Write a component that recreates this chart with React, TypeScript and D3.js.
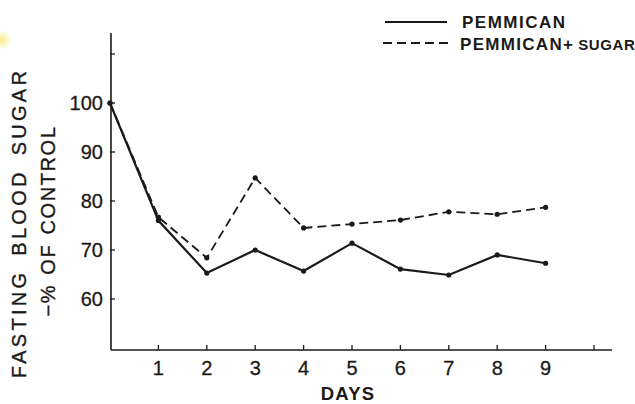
import React from "react"
import * as d3 from "d3"

// days 0..9, values
const days = [0, 1, 2, 3, 4, 5, 6, 7, 8, 9]
const pemmican = [100, 76, 65.3, 70, 65.7, 71.4, 66.1, 64.9, 69, 67.3]
const pemmicanSugar = [100, 76.7, 68.4, 84.7, 74.5, 75.3, 76.1, 77.8, 77.3, 78.7]
const xTicks = [1, 2, 3, 4, 5, 6, 7, 8, 9, 10]
const xTickLabels = ["1", "2", "3", "4", "5", "6", "7", "8", "9", ""]
const yTicks = [60, 70, 80, 90, 100, 110]
const yTickLabels = ["60", "70", "80", "90", "100", ""]
const seriesNames = ["PEMMICAN", "PEMMICAN+"]

const W = 635
const H = 404
const ink = "#1c1a18"
const font = "'Liberation Sans', Arial, sans-serif"

export default function App() {
  const x = d3.scaleLinear().domain([0, 10]).range([110, 594])
  const y = d3.scaleLinear().domain([60, 100]).range([299, 103])

  const xMin = 0.02
  const xMax = 10.37
  const yMin = 49.6
  const yMax = 114.3

  const line = d3
    .line<number>()
    .x((d, i) => x(days[i]))
    .y(d => y(d))

  const axisX = x(xMin)
  const axisY = y(yMin)

  return (
    <svg
      width={W}
      height={H}
      style={{ position: "absolute", left: 0, top: 0, background: "#fff" }}
    >
      <defs>
        <radialGradient id="spot">
          <stop offset="0%" stopColor="#f6ea7a" stopOpacity={0.9} />
          <stop offset="100%" stopColor="#f6ea7a" stopOpacity={0} />
        </radialGradient>
      </defs>
      <circle cx={2} cy={40} r={10} fill="url(#spot)" />

      {/* axes */}
      <line x1={axisX} x2={axisX} y1={y(yMax)} y2={axisY} stroke={ink} strokeWidth={1.6} />
      <line x1={axisX} x2={x(xMax)} y1={axisY} y2={axisY} stroke={ink} strokeWidth={1.6} />

      {yTicks.map((t, i) => (
        <g key={"y" + t}>
          <line x1={axisX - 1} x2={axisX + 4} y1={y(t)} y2={y(t)} stroke={ink} strokeWidth={1.3} />
          <text
            x={axisX - 8}
            y={y(t) + 7}
            textAnchor="end"
            fontFamily={font}
            fontSize={20}
            fill={ink}
            stroke={ink}
            strokeWidth={0.3}
          >
            {yTickLabels[i]}
          </text>
        </g>
      ))}

      {xTicks.map((t, i) => (
        <g key={"x" + t}>
          <line x1={x(t)} x2={x(t)} y1={axisY} y2={axisY - 5} stroke={ink} strokeWidth={1.3} />
          <text
            x={x(t)}
            y={axisY + 25}
            textAnchor="middle"
            fontFamily={font}
            fontSize={20}
            fill={ink}
            stroke={ink}
            strokeWidth={0.3}
          >
            {xTickLabels[i]}
          </text>
        </g>
      ))}

      <text
        x={348}
        y={400}
        textAnchor="middle"
        fontFamily={font}
        fontWeight="bold"
        fontSize={18.5}
        letterSpacing={1.2}
        fill={ink}
      >
        DAYS
      </text>

      <g fontFamily={font} fontSize={20} fill={ink} stroke={ink} strokeWidth={0.35} textAnchor="middle">
        <text transform="translate(26,223) rotate(-90)" letterSpacing={3.3} wordSpacing={5}>
          FASTING BLOOD SUGAR
        </text>
        <text transform="translate(55,221) rotate(-90)" letterSpacing={1.6} wordSpacing={2}>
          −% OF CONTROL
        </text>
      </g>

      {/* series */}
      <path
        d={line(pemmicanSugar) || ""}
        fill="none"
        stroke={ink}
        strokeWidth={1.8}
        strokeDasharray="9,5"
      />
      <path d={line(pemmican) || ""} fill="none" stroke={ink} strokeWidth={2.2} />
      {pemmicanSugar.map((v, i) => (
        <circle key={"s" + i} cx={x(days[i])} cy={y(v)} r={2.6} fill={ink} />
      ))}
      {pemmican.map((v, i) => (
        <circle key={"p" + i} cx={x(days[i])} cy={y(v)} r={2.6} fill={ink} />
      ))}

      {/* legend */}
      <line x1={385} x2={447} y1={22} y2={22} stroke={ink} strokeWidth={2.2} />
      <text x={462} y={28} fontFamily={font} fontWeight="bold" fontSize={17} letterSpacing={1.5} fill={ink}>
        {seriesNames[0]}
      </text>
      <line x1={383} x2={448} y1={43} y2={43} stroke={ink} strokeWidth={2} strokeDasharray="9,5" />
      <text x={460} y={50} fontFamily={font} fontWeight="bold" fontSize={17} letterSpacing={1.3} fill={ink}>
        {seriesNames[1]}
        <tspan fontSize={15} letterSpacing={0.6} dx={4}>SUGAR</tspan>
      </text>
    </svg>
  )
}
